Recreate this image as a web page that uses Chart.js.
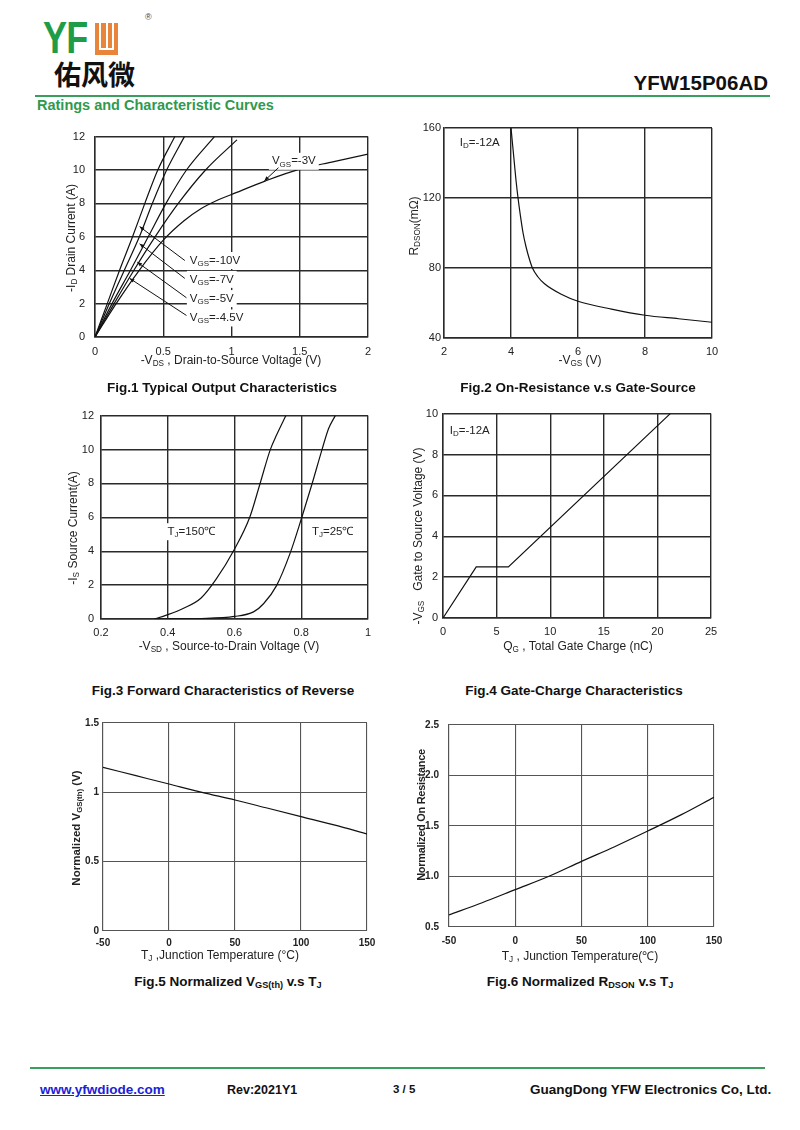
<!DOCTYPE html>
<html>
<head>
<meta charset="utf-8">
<script src="https://cdn.jsdelivr.net/npm/chart.js@4.4.1/dist/chart.umd.min.js"></script>
<style>
body{margin:0;background:#fff;font-family:"Liberation Sans",Arial,sans-serif;color:#111;}
#page{position:relative;width:800px;height:1130px;overflow:hidden;background:#fff;}
.t{position:absolute;white-space:nowrap;transform:translate(-50%,-50%);}
.l{position:absolute;white-space:nowrap;}
.yt{transform:translate(-50%,-50%) rotate(-90deg);}
canvas{position:absolute;}
sub{font-size:0.68em;vertical-align:-0.25em;line-height:0;}
.ax{font-size:12px;color:#222;}
.cap{font-size:13.5px;font-weight:bold;color:#111;}
.green{background:#3a9f5c;position:absolute;height:2px;}
</style>
</head>
<body>
<div id="page">
  <!-- header -->
  <div class="l" style="left:43px;top:12px;font-size:45px;font-weight:bold;color:#1f9c48;transform:scaleX(0.8);transform-origin:0 0;letter-spacing:-1px;">YF</div>
  <div style="position:absolute;left:95px;top:23px;width:23px;height:32px;background:#e8853a;"></div>
  <div style="position:absolute;left:99px;top:23px;width:2px;height:27px;background:#fff;"></div>
  <div style="position:absolute;left:112px;top:23px;width:2px;height:27px;background:#fff;"></div>
  <div style="position:absolute;left:105.5px;top:23px;width:2px;height:27px;background:#fff;"></div>
  <div style="position:absolute;left:99px;top:48px;width:15px;height:2px;background:#fff;"></div>
  <div class="l" style="left:145px;top:12px;font-size:9px;color:#444;">®</div>
  <div class="l" style="left:54px;top:58px;font-size:27px;font-weight:bold;font-family:'Noto Sans CJK SC';color:#111;line-height:32px;">佑风微</div>
  <div class="l" style="right:32px;top:71px;font-size:20.5px;font-weight:bold;color:#111;">YFW15P06AD</div>
  <div class="green" style="left:35px;top:95px;width:735px;"></div>
  <div class="l" style="left:37px;top:97px;font-size:14.5px;font-weight:bold;color:#2f9a4e;">Ratings and Characteristic Curves</div>

  <canvas id="fig1"></canvas>
  <canvas id="fig2"></canvas>
  <canvas id="fig3"></canvas>
  <canvas id="fig4"></canvas>
  <canvas id="fig5"></canvas>
  <canvas id="fig6"></canvas>

  <!-- axis titles -->
  <div class="t ax" style="left:231px;top:360px;">-V<sub>DS</sub> , Drain-to-Source Voltage (V)</div>
  <div class="t ax yt" style="left:71px;top:238px;">-I<sub>D</sub> Drain Current (A)</div>
  <div class="t ax" style="left:580px;top:360px;">-V<sub>GS</sub> (V)</div>
  <div class="t ax yt" style="left:414px;top:226px;">R<sub>DSON</sub>(mΩ)</div>
  <div class="t ax" style="left:229px;top:646px;">-V<sub>SD</sub> , Source-to-Drain Voltage (V)</div>
  <div class="t ax yt" style="left:73px;top:528px;">-I<sub>S</sub> Source Current(A)</div>
  <div class="t ax" style="left:578px;top:646px;">Q<sub>G</sub> , Total Gate Charge (nC)</div>
  <div class="t ax yt" style="left:418px;top:536px;">-V<sub>GS</sub>&nbsp;&nbsp; Gate to Source Voltage (V)</div>
  <div class="t ax" style="left:220px;top:955px;">T<sub>J</sub> ,Junction Temperature (°C)</div>
  <div class="t ax yt" style="left:76px;top:828px;font-weight:bold;font-size:11.5px;">Normalized V<sub>GS(th)</sub> (V)</div>
  <div class="t ax" style="left:580px;top:955px;">T<sub>J</sub> , Junction Temperature(℃)</div>
  <div class="t ax yt" style="left:421px;top:815px;font-weight:bold;font-size:11px;letter-spacing:-0.3px;">Normalized On Resistance</div>

  <!-- figure captions -->
  <div class="t cap" style="left:222px;top:387px;">Fig.1 Typical Output Characteristics</div>
  <div class="t cap" style="left:578px;top:387px;">Fig.2 On-Resistance v.s Gate-Source</div>
  <div class="t cap" style="left:223px;top:690px;">Fig.3 Forward Characteristics of Reverse</div>
  <div class="t cap" style="left:574px;top:690px;">Fig.4 Gate-Charge Characteristics</div>
  <div class="t cap" style="left:228px;top:981px;">Fig.5 Normalized V<sub>GS(th)</sub> v.s T<sub>J</sub></div>
  <div class="t cap" style="left:580px;top:981px;">Fig.6 Normalized R<sub>DSON</sub> v.s T<sub>J</sub></div>

  <!-- footer -->
  <div class="green" style="left:30px;top:1067px;width:735px;"></div>
  <div class="l" style="left:40px;top:1082px;font-size:13.5px;font-weight:bold;color:#1a22d8;text-decoration:underline;">www.yfwdiode.com</div>
  <div class="l" style="left:227px;top:1083px;font-size:12.5px;font-weight:bold;">Rev:2021Y1</div>
  <div class="l" style="left:393px;top:1083px;font-size:11.5px;font-weight:bold;">3 / 5</div>
  <div class="l" style="left:530px;top:1082px;font-size:13.5px;font-weight:bold;">GuangDong YFW Electronics Co, Ltd.</div>
</div>

<script>
// ---- Fig.1 output characteristics (-Vds in V, -Id in A)
const vds10V = [0, 0.09, 0.18, 0.275, 0.365, 0.46, 0.585];
const id10V  = [0, 2, 4, 6, 8, 10, 12];
const vds7V  = [0, 0.105, 0.215, 0.325, 0.42, 0.525, 0.655];
const id7V   = [0, 2, 4, 6, 8, 10, 12];
const vds5V  = [0, 0.125, 0.26, 0.39, 0.52, 0.67, 0.875];
const id5V   = [0, 2, 4, 6, 8, 10, 12];
const vds45V = [0, 0.14, 0.285, 0.44, 0.61, 0.81, 1.04];
const id45V  = [0, 2, 4, 6, 8, 10, 11.8];
const vds3V  = [0, 0.155, 0.32, 0.5, 0.65, 0.77, 0.9, 1.0, 1.25, 1.5, 1.75, 2];
const id3V   = [0, 2, 3.95, 5.8, 6.95, 7.65, 8.2, 8.53, 9.35, 10.05, 10.5, 10.95];

// ---- Fig.2 Rdson vs -Vgs
const vgsFig2  = [4.0, 4.05, 4.1, 4.15, 4.21, 4.28, 4.36, 4.45, 4.55, 4.64, 4.8, 5.0, 5.5, 6, 7, 8, 9, 10];
const rdsonMO  = [160, 150, 140, 130, 120, 110, 100, 92, 85, 80, 75, 71, 65, 61, 56.5, 53, 51, 49];

// ---- Fig.3 body diode forward
const vsd150 = [0.36, 0.396, 0.446, 0.50, 0.545, 0.599, 0.646, 0.676, 0.707, 0.726, 0.754];
const is150  = [0, 0.23, 0.62, 1.24, 2.35, 4.09, 6.02, 7.95, 9.98, 10.85, 12];
const vsd25  = [0.36, 0.5, 0.6, 0.657, 0.687, 0.726, 0.767, 0.802, 0.832, 0.862, 0.882, 0.902];
const is25   = [0, 0.03, 0.15, 0.42, 0.9, 1.97, 3.9, 6.02, 7.95, 9.98, 11.24, 12];

// ---- Fig.4 gate charge
const qgNc   = [0, 3.1, 6.1, 21.2];
const vgsQg  = [0, 2.5, 2.5, 10];

// ---- Fig.5 / Fig.6 vs junction temperature
const tjC      = [-50, -25, 0, 25, 50, 75, 100, 125, 150];
const vthNorm  = [1.18, 1.12, 1.06, 1.0, 0.945, 0.885, 0.825, 0.765, 0.70];
const ronNorm  = [0.62, 0.74, 0.87, 1.0, 1.15, 1.295, 1.45, 1.61, 1.785];

Chart.defaults.font.family = '"Liberation Sans", Arial, sans-serif';

// labels drawn inside plots (data coordinates), white box behind text
const notes = {
  fig1: [
    {x: 0.695, y: 4.58, parts: [['V'], ['GS', 1], ['=-10V']], arrow: [0.658, 4.58, 0.327, 6.61]},
    {x: 0.695, y: 3.45, parts: [['V'], ['GS', 1], ['=-7V']], arrow: [0.658, 3.51, 0.327, 5.58]},
    {x: 0.695, y: 2.3, parts: [['V'], ['GS', 1], ['=-5V']], arrow: [0.67, 2.35, 0.31, 4.48]},
    {x: 0.695, y: 1.14, parts: [['V'], ['GS', 1], ['=-4.5V']], arrow: [0.67, 1.29, 0.254, 3.51]},
    {x: 1.296, y: 10.52, parts: [['V'], ['GS', 1], ['=-3V']], arrow: [1.344, 10.14, 1.241, 9.35]}
  ],
  fig2: [{x: 2.47, y: 151.6, parts: [['I'], ['D', 1], ['=-12A']]}],
  fig3: [
    {x: 0.399, y: 5.15, parts: [['T'], ['J', 1], ['=150℃']]},
    {x: 0.832, y: 5.15, parts: [['T'], ['J', 1], ['=25℃']]}
  ],
  fig4: [{x: 0.63, y: 9.17, parts: [['I'], ['D', 1], ['=-12A']]}]
};

const notesPlugin = {
  id: 'notes',
  afterDatasetsDraw(chart) {
    const list = notes[chart.canvas.id];
    if (!list) return;
    const ctx = chart.ctx, sx = chart.scales.x, sy = chart.scales.y;
    const fam = '"Liberation Sans", Arial, sans-serif';
    list.forEach(n => {
      ctx.save();
      const px = sx.getPixelForValue(n.x), py = sy.getPixelForValue(n.y);
      let w = 0;
      n.parts.forEach(p => {
        ctx.font = (p[1] ? '8px ' : '11.5px ') + fam;
        w += ctx.measureText(p[0]).width;
      });
      ctx.fillStyle = '#fff';
      ctx.fillRect(px - 3, py - 8.5, w + 6, 17);
      ctx.fillStyle = '#222';
      ctx.textBaseline = 'middle';
      let cx = px;
      n.parts.forEach(p => {
        ctx.font = (p[1] ? '8px ' : '11.5px ') + fam;
        ctx.fillText(p[0], cx, p[1] ? py + 3 : py);
        cx += ctx.measureText(p[0]).width;
      });
      if (n.arrow) {
        const x1 = sx.getPixelForValue(n.arrow[0]), y1 = sy.getPixelForValue(n.arrow[1]);
        const x2 = sx.getPixelForValue(n.arrow[2]), y2 = sy.getPixelForValue(n.arrow[3]);
        ctx.strokeStyle = '#111';
        ctx.lineWidth = 1;
        ctx.beginPath(); ctx.moveTo(x1, y1); ctx.lineTo(x2, y2); ctx.stroke();
        const a = Math.atan2(y2 - y1, x2 - x1);
        ctx.fillStyle = '#111';
        ctx.beginPath();
        ctx.moveTo(x2, y2);
        ctx.lineTo(x2 - 5 * Math.cos(a - 0.4), y2 - 5 * Math.sin(a - 0.4));
        ctx.lineTo(x2 - 5 * Math.cos(a + 0.4), y2 - 5 * Math.sin(a + 0.4));
        ctx.closePath(); ctx.fill();
      }
      ctx.restore();
    });
  }
};

function pts(xs, ys) { return xs.map((x, i) => ({x: x, y: ys[i]})); }

function curve(xs, ys, smooth) {
  return {
    data: pts(xs, ys), showLine: true, borderColor: '#111', borderWidth: 1.2,
    pointRadius: 0, cubicInterpolationMode: smooth ? 'monotone' : 'default', tension: 0
  };
}

const PAD = {l: 50, t: 10, r: 22, b: 32};

function axis(min, max, step, pad, fmt, opts) {
  opts = opts || {};
  const gc = opts.grid || '#2a2a2a';
  return {
    type: 'linear', min: min, max: max,
    ticks: {
      stepSize: step, padding: pad, color: '#222', autoSkip: false, maxRotation: 0,
      font: {size: opts.size || 11, weight: opts.bold ? 'bold' : 'normal'},
      callback: fmt
    },
    grid: {color: gc, lineWidth: opts.lw || 1.4, drawTicks: false},
    border: {color: gc, width: opts.lw || 1.4},
    afterFit: s => { if (s.isHorizontal()) s.height = PAD.b; else s.width = PAD.l; }
  };
}

function figure(id, box, xAxis, yAxis, datasets) {
  const cv = document.getElementById(id);
  cv.width = box[2] - box[0] + PAD.l + PAD.r;
  cv.height = box[3] - box[1] + PAD.t + PAD.b;
  cv.style.left = (box[0] - PAD.l) + 'px';
  cv.style.top = (box[1] - PAD.t) + 'px';
  new Chart(cv, {
    type: 'scatter',
    data: {datasets: datasets},
    options: {
      responsive: false, animation: false,
      layout: {padding: {top: PAD.t, right: PAD.r, left: 0, bottom: 0}},
      plugins: {legend: {display: false}, tooltip: {enabled: false}},
      scales: {x: xAxis, y: yAxis}
    },
    plugins: [notesPlugin]
  });
}

const num = v => String(+v.toFixed(2));
const one = v => v.toFixed(1);

figure('fig1', [95, 130, 368, 337],
  axis(0, 2, 0.5, 8, num), axis(0, 12, 2, 10, num),
  [curve(vds10V, id10V, true), curve(vds7V, id7V, true), curve(vds5V, id5V, true),
   curve(vds45V, id45V, true), curve(vds3V, id3V, true)]);

figure('fig2', [444, 128, 712, 338],
  axis(2, 10, 2, 7, num), axis(40, 160, 40, 3, num),
  [curve(vgsFig2, rdsonMO, true)]);

figure('fig3', [101, 412, 368, 619],
  axis(0.2, 1, 0.2, 7, num), axis(0, 12, 2, 7, num),
  [curve(vsd150, is150, true), curve(vsd25, is25, true)]);

figure('fig4', [443, 412, 711, 618],
  axis(0, 25, 5, 7, num), axis(0, 10, 2, 5, num),
  [curve(qgNc, vgsQg, false)]);

figure('fig5', [103, 723, 367, 931],
  axis(-50, 150, 50, 6, num, {bold: true, size: 10, grid: '#555', lw: 1.1}),
  axis(0, 1.5, 0.5, 4, num, {bold: true, size: 10, grid: '#555', lw: 1.1}),
  [curve(tjC, vthNorm, true)]);

figure('fig6', [449, 719, 714, 927],
  axis(-50, 150, 50, 8, num, {bold: true, size: 10, grid: '#555', lw: 1.1}),
  axis(0.5, 2.5, 0.5, 10, one, {bold: true, size: 10, grid: '#555', lw: 1.1}),
  [curve(tjC, ronNorm, true)]);
</script>
</body>
</html>
